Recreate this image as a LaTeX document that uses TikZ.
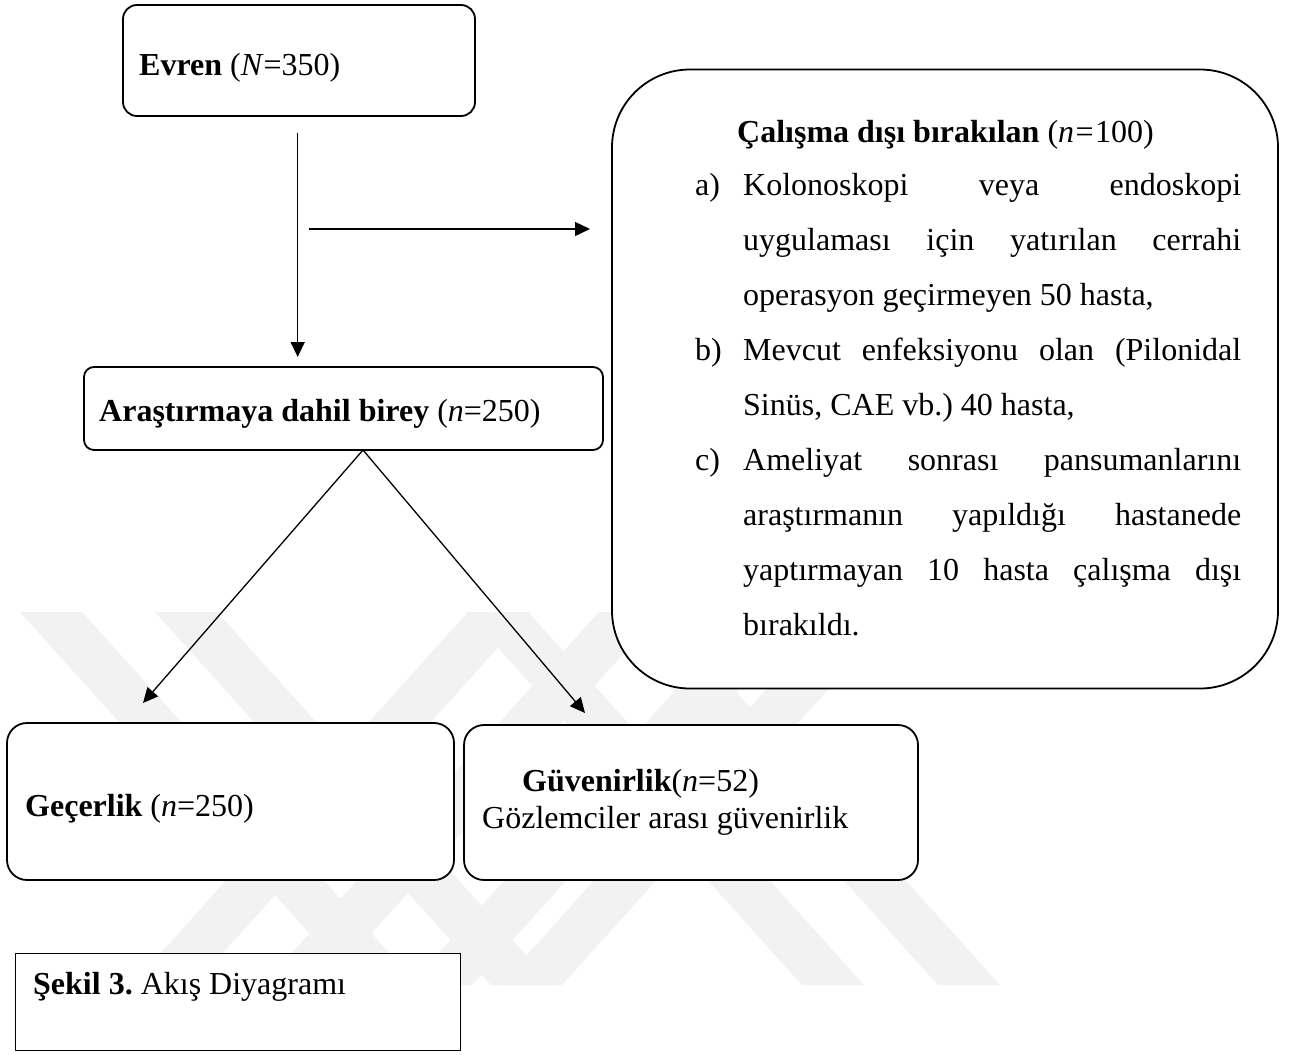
\documentclass[tikz,border=0pt]{standalone}
\usepackage{fontspec}
\setmainfont{Liberation Serif}
\usetikzlibrary{arrows.meta}
\frenchspacing
\begin{document}
\begin{tikzpicture}[x=1pt,y=-1pt,
  box/.style={draw, line width=1.8pt, fill=white, rounded corners=#1, inner sep=0pt},
  box/.default=14pt,
  capbox/.style={draw, line width=1pt, fill=white, inner sep=0pt},
  lbl/.style={anchor=base west, inner sep=0pt, font=\fontsize{32}{38}\selectfont},
  arr/.style={line width=1.3pt, -{Triangle[length=15pt,width=14pt]}},
  wm/.style={fill=black!5, draw=none}]
\useasboundingbox (0,0) rectangle (1291,1055);
\fill[white] (0,0) rectangle (1291,1055);
% faint watermark
\fill[wm] (20,612) -- (82,612) -- (418,985) -- (356,985) -- cycle;
\fill[wm] (155,612) -- (217,612) -- (553,985) -- (491,985) -- cycle;
\fill[wm] (132,985) -- (194,985) -- (530,612) -- (468,612) -- cycle;
\fill[wm] (263,985) -- (325,985) -- (661,612) -- (599,612) -- cycle;
\fill[wm] (466,612) -- (528,612) -- (864,985) -- (802,985) -- cycle;
\fill[wm] (602,612) -- (664,612) -- (1000,985) -- (938,985) -- cycle;
\fill[wm] (410,985) -- (472,985) -- (808,612) -- (746,612) -- cycle;
\fill[wm] (500,985) -- (562,985) -- (898,612) -- (836,612) -- cycle;
% boxes
\node[box=14pt, minimum width=352pt, minimum height=111pt] (evren) at (299,60.5) {};
\node[lbl] (evrent) at (139,75) {\textbf{Evren} (\textit{N}=350)};
\node[box=10pt, minimum width=519pt, minimum height=83pt] (arast) at (343.5,408.5) {};
\node[lbl] (arastt) at (99,421.7) {\textbf{Araştırmaya dahil birey} (\textit{n}=250)};
\node[box=78pt, minimum width=666pt, minimum height=619pt] (excl) at (945,379) {};
\node[lbl] (exclt) at (737,142.7) {\textbf{Çalışma dışı bırakılan} (\textit{n}\kern1.5pt=\kern1.5pt100)};
\node[anchor=base west, inner sep=0pt] (excll) at (695,195) {\parbox[t]{546pt}{\fontsize{32}{55}\selectfont
\hangindent=48pt\hangafter=1\makebox[48pt][l]{a)}Kolonoskopi veya endoskopi\linebreak
uygulaması için yatırılan cerrahi\linebreak
operasyon geçirmeyen 50 hasta,\par
\hangindent=48pt\hangafter=1\makebox[48pt][l]{b)}Mevcut enfeksiyonu olan (Pilonidal\linebreak
Sinüs, CAE vb.) 40 hasta,\par
\hangindent=48pt\hangafter=1\makebox[48pt][l]{c)}Ameliyat sonrası pansumanlarını\linebreak
araştırmanın yapıldığı hastanede\linebreak
yaptırmayan 10 hasta çalışma dışı\linebreak
bırakıldı.\par}};
\node[box=20pt, minimum width=447pt, minimum height=157pt] (gec) at (230.5,801.5) {};
\node[lbl] (gect) at (25,816) {\textbf{Geçerlik} (\textit{n}=250)};
\node[box=20pt, minimum width=454pt, minimum height=155pt] (guv) at (691,802.5) {};
\node[lbl] (guvt) at (522,791) {\textbf{Güvenirlik}(\textit{n}=52)};
\node[lbl] (guvs) at (482,828) {Gözlemciler arası güvenirlik};
\node[capbox, minimum width=445pt, minimum height=97pt] (sekil) at (237.5,1001.5) {};
\node[lbl] (sekilt) at (33,994) {\textbf{Şekil 3.} Akış Diyagramı};
% connectors
\coordinate (v1) at (297.7,132.7);
\coordinate (v2) at (297.7,357);
\draw[arr] (v1) -- (v2);
\coordinate (h1) at (309,229);
\coordinate (h2) at (590,229);
\draw[arr] (h1) -- (h2);
\coordinate (apex) at (363,450);
\coordinate (t1) at (143,703);
\coordinate (t2) at (585,713);
\draw[arr] (apex) -- (t1);
\draw[arr] (apex) -- (t2);
\end{tikzpicture}
\end{document}
